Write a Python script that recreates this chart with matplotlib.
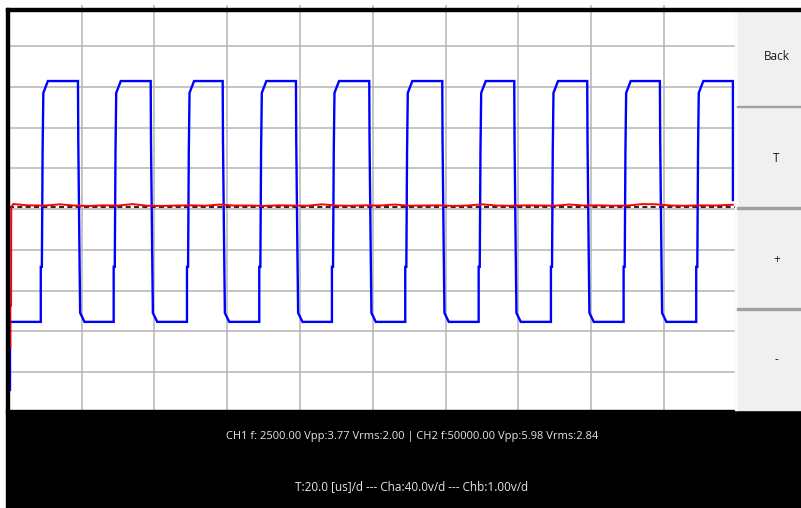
import numpy as np
import matplotlib
matplotlib.use("Agg")
import matplotlib.pyplot as plt
from matplotlib.patches import Rectangle

# ---- scope settings -------------------------------------------------------
time_per_div_us = 20.0          # T:20.0 [us]/d
cha_volts_per_div = 40.0        # Cha:40.0v/d
chb_volts_per_div = 1.00        # Chb:1.00v/d
n_xdiv, n_ydiv = 10, 10

# ---- CH2 (blue) square wave ----------------------------------------------
ch2_rise_us = [8.76, 28.79, 48.93, 68.79, 88.76, 108.90, 129.07, 148.93, 168.90, 188.85]
ch2_fall_us = [18.98, 38.96, 58.74, 78.87, 99.01, 119.07, 138.85, 158.90, 178.87, 198.93]
ch2_high_v = 3.14
ch2_low_v = -2.77
# shape of the edges: time offset (us) and voltage along each edge
rise_dt = [0.00, 0.00, 0.30, 0.50, 0.70, 1.95]
rise_v = [-2.77, -1.42, -1.42, 1.42, 2.85, 3.14]
fall_dt = [0.00, 0.08, 0.40, 0.60, 1.80]
fall_v = [3.14, 1.69, -1.00, -2.55, -2.77]
# start of the capture and end of record
ch2_start_t = [0.30, 0.30, 0.72]
ch2_start_v = [-4.44, -2.77, -2.77]
ch2_end_t = [198.93, 198.93]
ch2_end_v = [3.14, 0.22]

# ---- CH1 (red) trace ------------------------------------------------------
ch1_t = [0.40, 0.40, 0.60, 0.65, 1.20, 5, 10, 14, 18, 22, 26, 30, 34, 38, 42,
         46, 50, 54, 58, 62, 66, 70, 74, 78, 82, 86, 90, 94, 98, 102, 106,
         110, 114, 118, 122, 126, 130, 134, 138, 142, 146, 150, 154, 158,
         162, 166, 170, 174, 178, 182, 186, 190, 194, 198.9]
ch1_v = [-136, -95, -95, 2.0, 4.9, 3.6, 3.4, 4.6, 3.4, 3.0, 3.6, 3.4, 4.8, 3.2,
         3.0, 3.4, 3.6, 3.2, 4.4, 3.4, 3.4, 3.0, 3.6, 3.4, 3.2, 4.6, 3.4, 3.2,
         3.6, 3.4, 4.4, 3.2, 3.4, 3.6, 3.0, 3.4, 4.6, 3.4, 3.2, 3.6, 3.4,
         3.2, 4.4, 3.4, 3.6, 3.2, 3.4, 4.8, 4.6, 3.4, 3.2, 3.6, 3.4, 4.2]

trigger_level_div = 0.04

ch1_label = "CH1 f: 2500.00 Vpp:3.77 Vrms:2.00 | CH2 f:50000.00 Vpp:5.98 Vrms:2.84"
scale_label = "T:20.0 [us]/d --- Cha:40.0v/d --- Chb:1.00v/d"
buttons = ["Back", "T", "+", "-"]

# ---- build CH2 polyline from edges ---------------------------------------
bt = list(ch2_start_t)
bv = list(ch2_start_v)
for r, f in zip(ch2_rise_us, ch2_fall_us):
    bt += [r + d for d in rise_dt]
    bv += list(rise_v)
    if f == ch2_fall_us[-1]:
        bt += ch2_end_t
        bv += ch2_end_v
    else:
        bt += [f + d for d in fall_dt]
        bv += list(fall_v)
bt = np.array(bt)
bv = np.array(bv) / chb_volts_per_div
rt = np.array(ch1_t)
rv = np.array(ch1_v) / cha_volts_per_div

# ---- figure ---------------------------------------------------------------
W, H = 801, 508
fig = plt.figure(figsize=(W / 100, H / 100), dpi=100)
fig.patch.set_facecolor("white")

x0, x1 = 8.9, 736.8
y0, y1 = 5.25, 412.75
ax = fig.add_axes([x0 / W, 1 - y1 / H, (x1 - x0) / W, (y1 - y0) / H])
ax.set_facecolor("white")
span_t = time_per_div_us * n_xdiv
ax.set_xlim(0, span_t)
ax.set_ylim(-n_ydiv / 2, n_ydiv / 2)
for k in range(1, n_xdiv):
    ax.axvline(k * time_per_div_us, color="#b4b4b4", lw=1.1, zorder=1)
for k in range(1, n_ydiv):
    ax.axhline(-n_ydiv / 2 + k, color="#b4b4b4", lw=1.1, zorder=1)
ax.axhline(trigger_level_div, color="black", lw=1.2, ls=(0, (3, 2)), zorder=2)
ax.plot(bt, bv, color="#0000ff", lw=1.7, zorder=3, solid_joinstyle="miter")
ax.plot(rt, rv, color="#ff0000", lw=1.4, zorder=4)
ax.set_xticks([])
ax.set_yticks([])
for s in ax.spines.values():
    s.set_visible(False)

# ---- frame, status bar and button panel (pixel coordinates) -------------
ov = fig.add_axes([0, 0, 1, 1])
ov.set_xlim(0, W)
ov.set_ylim(H, 0)
ov.axis("off")
ov.patch.set_alpha(0)

# status bar
ov.add_patch(Rectangle((6, 410), W - 6, H - 410, color="black", zorder=5))
# frame lines
ov.add_patch(Rectangle((6, 8), W - 6, 2.6, color="black", zorder=6))
ov.add_patch(Rectangle((6, 8), 2.6, 405, color="black", zorder=6))
# button panel
ov.add_patch(Rectangle((735, 10.6), W - 735, 399.4, color="#f0f0f0", zorder=5))
ov.add_patch(Rectangle((735, 10.6), 2, 399.4, color="#fafafa", zorder=5))
for ys in [106.5, 208, 309]:
    ov.add_patch(Rectangle((737, ys - 0.8), W - 737, 1.6, color="#a0a0a0", zorder=6))
for lbl, yc in zip(buttons, [56, 158, 259, 360]):
    ov.text(776.5, yc, lbl, ha="center", va="center", fontsize=8.5,
            family="Open Sans", color="#1a1a1a", zorder=7)

ov.text(412.5, 436, ch1_label, ha="center", va="center", fontsize=8.0,
        family="Open Sans", color="#e6e6e6", zorder=7)
ov.text(412, 487, scale_label, ha="center", va="center", fontsize=8.5,
        family="Open Sans", color="#e6e6e6", zorder=7)

fig.savefig("out.png", dpi=100)
